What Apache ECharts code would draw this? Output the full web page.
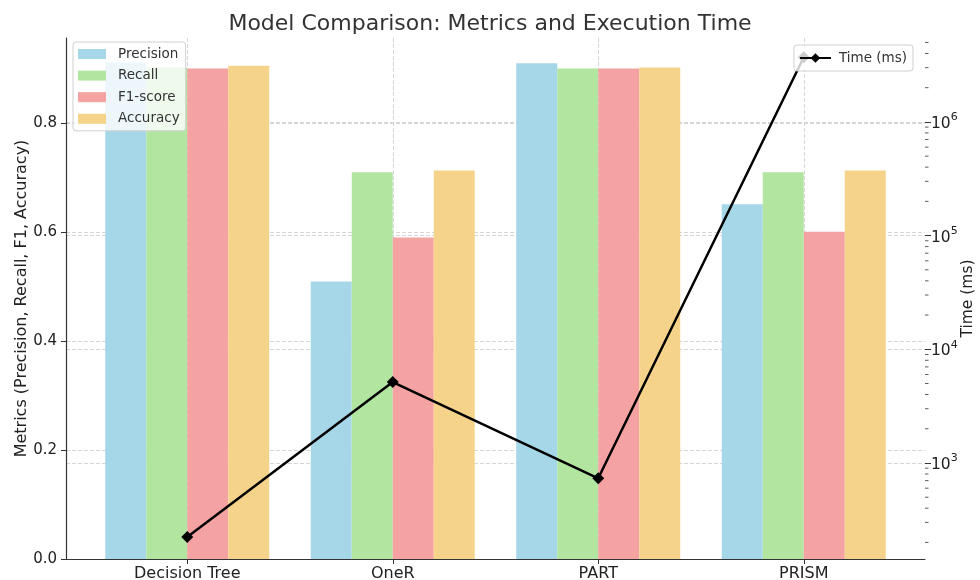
<!DOCTYPE html>
<html>
<head>
<meta charset="utf-8">
<script src="https://cdn.jsdelivr.net/npm/echarts@6/dist/echarts.min.js"></script>
<style>html,body{margin:0;padding:0;background:#fff}#c{width:980px;height:580px}</style>
</head>
<body>
<div id="c"></div>
<script>
var categories = ['Decision Tree', 'OneR', 'PART', 'PRISM'];
var precision = [0.911, 0.509, 0.9095, 0.651];
var recall = [0.902, 0.7095, 0.900, 0.7095];
var f1score = [0.900, 0.590, 0.900, 0.6006];
var accuracy = [0.905, 0.713, 0.902, 0.713];
var timeMs = [223, 5150, 733, 3700000];
var leftTicks = [0, 0.2, 0.4, 0.6, 0.8];
var minorMultipliers = [2, 3, 4, 5, 6, 7, 8, 9];
var minorDecades = [100, 1000, 10000, 100000, 1000000];

var FONT = 'DejaVu Sans';
var chart = echarts.init(document.getElementById('c'), null, {renderer: 'canvas'});

function pts(arr) { return arr.map(function (v, i) { return [i, v]; }); }

var minorVals = [];
minorDecades.forEach(function (d) {
  minorMultipliers.forEach(function (m) {
    var v = m * d;
    if (v > 143 && v < 5.47e6) minorVals.push([0, v]);
  });
});

function barSeries(name, data, color) {
  return {
    name: name, type: 'bar', xAxisIndex: 0, yAxisIndex: 0,
    data: pts(data), barWidth: 41, barGap: '0%',
    itemStyle: {color: color}, z: 2
  };
}

var gridLine = {color: '#cccccc', type: [4, 2], width: 0.8};

var option = {
  animation: false,
  backgroundColor: '#fff',
  textStyle: {fontFamily: FONT},
  title: {
    text: 'Model Comparison: Metrics and Execution Time',
    left: 'center', top: 8,
    textStyle: {fontFamily: FONT, fontSize: 22, fontWeight: 'normal', color: '#333'}
  },
  grid: [
    {left: 66, right: 55, top: 38, bottom: 21, containLabel: false, outerBoundsMode: 'none'},
    {left: 187.25, right: 176.25, top: 38, bottom: 21, containLabel: false, outerBoundsMode: 'none'}
  ],
  legend: [{
    data: ['Precision', 'Recall', 'F1-score', 'Accuracy'],
    orient: 'vertical', left: 73, top: 42, z: 20,
    icon: 'rect', itemWidth: 28, itemHeight: 10, itemGap: 7.6,
    padding: [5, 6, 5, 5],
    backgroundColor: 'rgba(255,255,255,0.8)', borderColor: '#d0d0d0', borderWidth: 1, borderRadius: 3,
    textStyle: {fontFamily: FONT, fontSize: 13.5, color: '#333', lineHeight: 14, padding: [0, 0, 0, 7]}
  }, {
    data: ['Time (ms)'],
    right: 67, top: 45, z: 20,
    itemWidth: 31, itemHeight: 12,
    padding: [6, 6, 6, 5],
    backgroundColor: 'rgba(255,255,255,0.8)', borderColor: '#d0d0d0', borderWidth: 1, borderRadius: 3,
    textStyle: {fontFamily: FONT, fontSize: 13.5, color: '#333', lineHeight: 14, padding: [0, 0, 0, 3]}
  }],
  xAxis: [{
    type: 'value', min: -0.59, max: 3.59, gridIndex: 0,
    axisLine: {show: true, onZero: false, lineStyle: {color: '#333', width: 1.2}},
    axisTick: {show: false},
    axisLabel: {show: false},
    splitLine: {show: false}
  }, {
    type: 'value', min: 0, max: 3, interval: 1, gridIndex: 1,
    axisLine: {show: false, onZero: false},
    axisTick: {show: true, length: 5, lineStyle: {color: '#333'}},
    axisLabel: {
      margin: 7, fontFamily: FONT, fontSize: 16, color: '#222',
      showMinLabel: true, showMaxLabel: true,
      formatter: function (v) {
        var r = Math.round(v);
        if (Math.abs(v - r) < 1e-6 && r >= 0 && r < categories.length) return categories[r];
        return '';
      }
    },
    splitLine: {show: true, lineStyle: gridLine}
  }],
  yAxis: [{
    type: 'value', min: 0, max: 0.956, interval: 0.2, position: 'left', gridIndex: 0,
    name: 'Metrics (Precision, Recall, F1, Accuracy)', nameLocation: 'middle', nameGap: 36, nameMoveOverlap: false,
    nameTextStyle: {fontFamily: FONT, fontSize: 16, color: '#222'},
    axisLine: {show: true, onZero: false, lineStyle: {color: '#333', width: 1.2}},
    axisTick: {show: true, length: 5, lineStyle: {color: '#333'}},
    axisLabel: {
      margin: 9, fontFamily: FONT, fontSize: 15, color: '#222', showMaxLabel: false,
      formatter: function (v) {
        var r = Math.round(v * 10) / 10;
        return (leftTicks.indexOf(r) >= 0 && Math.abs(v - r) < 1e-6) ? v.toFixed(1) : '';
      }
    },
    splitLine: {show: true, showMinLine: false, showMaxLine: false, lineStyle: gridLine}
  }, {
    type: 'log', logBase: 10, min: 143, max: 5.47e6, splitNumber: 5, position: 'right', gridIndex: 0,
    name: 'Time (ms)', nameLocation: 'middle', nameGap: 35, nameRotate: 90, nameMoveOverlap: false,
    nameTextStyle: {fontFamily: FONT, fontSize: 15.5, color: '#222'},
    axisLine: {show: false, onZero: false},
    axisTick: {show: true, length: 6, lineStyle: {color: '#333'}},
    axisLabel: {
      margin: 6, fontFamily: FONT, color: '#222', showMinLabel: false, showMaxLabel: false,
      formatter: function (v) {
        var e = Math.log10(v);
        if (Math.abs(e - Math.round(e)) < 1e-6 && Math.round(e) >= 3) return '{b|10}{s|' + Math.round(e) + '}';
        return '';
      },
      rich: {
        b: {fontFamily: FONT, fontSize: 15.5, color: '#222', verticalAlign: 'bottom', lineHeight: 20},
        s: {fontFamily: FONT, fontSize: 11, color: '#222', verticalAlign: 'top', lineHeight: 20, padding: [0, 0, 6, 0]}
      }
    },
    splitLine: {show: true, showMinLine: false, showMaxLine: false, lineStyle: gridLine}
  }, {
    type: 'value', gridIndex: 1, min: 0, max: 1, show: false
  }],
  series: [
    barSeries('Precision', precision, '#a5d7e8'),
    barSeries('Recall', recall, '#b2e6a0'),
    barSeries('F1-score', f1score, '#f4a2a2'),
    barSeries('Accuracy', accuracy, '#f6d38b'),
    {
      name: 'Time (ms)', type: 'line', xAxisIndex: 0, yAxisIndex: 1,
      data: pts(timeMs), symbol: 'diamond', symbolSize: 12,
      lineStyle: {color: '#000', width: 2.5}, itemStyle: {color: '#000'}, z: 3
    },
    {
      name: 'minorTicks', type: 'custom', xAxisIndex: 0, yAxisIndex: 1,
      data: minorVals, clip: false, silent: true, z: 3,
      renderItem: function (params, api) {
        var y = api.coord([0, api.value(1)])[1];
        var x = params.coordSys.x + params.coordSys.width;
        return {type: 'line', shape: {x1: x, y1: y, x2: x + 3.5, y2: y}, style: {stroke: '#333', lineWidth: 0.8}};
      }
    }
  ]
};
chart.setOption(option);
</script>
</body>
</html>
